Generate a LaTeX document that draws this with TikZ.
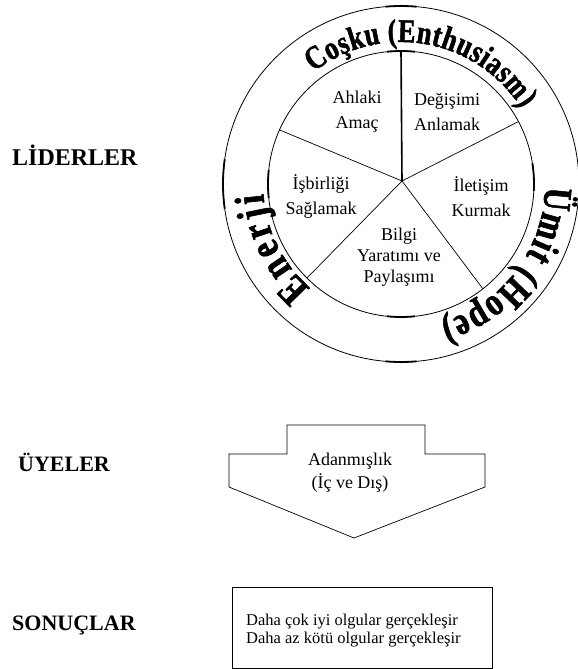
\documentclass[tikz,border=0pt]{standalone}
\usepackage{fontspec}
\setmainfont{Liberation Serif}
\newfontfamily\artfont{Liberation Serif}[FakeStretch=0.8, FakeBold=1.5]
\usetikzlibrary{calc,decorations.text}

\begin{document}
\begin{tikzpicture}[
    x=1pt, y=1pt,
    level/.style={anchor=west, inner sep=0pt, font=\fontsize{22}{26}\selectfont\bfseries},
    slice/.style={align=center, inner sep=0pt, font=\fontsize{18}{25}\selectfont},
    ring/.style={draw, line width=0.8pt},
    handle/.style={line width=1.8pt},
    spoke/.style={line width=0.7pt},
    curved/.style n args={2}{decorate, decoration={text along path, text align=fit to path,
                   text={|\artfont\bfseries\fontsize{#1}{#1}\selectfont|#2}}}
]
\useasboundingbox (0,0) rectangle (578,-669);

% Level labels
\node[level, font=\fontsize{24}{28}\selectfont\bfseries] (lider) at (12,-155) {LİDERLER};
\node[level] (uye) at (18,-462) {ÜYELER};
\node[level] (sonuc) at (12,-625) {SONUÇLAR};

% Rings
\coordinate (ctr) at (401,-184);
\coordinate (hub) at (402,-181);
\draw[ring] (ctr) circle[radius=178pt];
\draw[ring] (ctr) circle[radius=133pt];

% Handles on the rings
\draw[handle] ($(ctr)+(84:133pt)$) arc[start angle=84, end angle=96, radius=133pt];
\draw[handle] ($(ctr)+(264:133pt)$) arc[start angle=264, end angle=276, radius=133pt];
\draw[handle] ($(ctr)+(-3:133pt)$) arc[start angle=-3, end angle=9, radius=133pt];
\draw[handle] ($(ctr)+(174:133pt)$) arc[start angle=174, end angle=186, radius=133pt];
\draw[handle] ($(ctr)+(85:178pt)$) arc[start angle=85, end angle=95, radius=178pt];
\draw[handle] ($(ctr)+(265:178pt)$) arc[start angle=265, end angle=275, radius=178pt];
\draw[handle] ($(ctr)+(172:178pt)$) arc[start angle=172, end angle=188, radius=178pt];

% Spokes
\draw[spoke, line width=1.6pt] (hub) -- ($(ctr)+(90:133pt)$);
\draw[spoke] (hub) -- ($(ctr)+(28:133pt)$);
\draw[spoke] (hub) -- ($(ctr)+(156:133pt)$);
\draw[spoke] (hub) -- ($(ctr)+(225:133pt)$);
\draw[spoke] (hub) -- ($(ctr)+(308:133pt)$);

% Slices
\node[slice] (ahlak) at (357,-112) {Ahlaki\\Amaç};
\node[slice] (degisim) at (447,-112) {Değişimi\\Anlamak};
\node[slice] (isbirligi) at (321,-197) {İşbirliği\\Sağlamak};
\node[slice] (iletisim) at (481,-197) {İletişim\\Kurmak};
\node[slice, font=\fontsize{18}{21}\selectfont] (bilgi) at (399,-257) {Bilgi\\Yaratımı ve\\Paylaşımı};

% Text round the ring
\path[curved={33}{Coşku (Enthusiasm)}] ($(ctr)+(128:142pt)$) arc[start angle=128, end angle=32, radius=142pt];
\path[curved={40}{Ümit (Hope)}] ($(ctr)+(-1:144pt)$) arc[start angle=-1, end angle=-74, radius=144pt];
\path[curved={42}{Enerji}] ($(ctr)+(229:138pt)$) arc[start angle=229, end angle=184, radius=138pt];

% Commitment arrow
\draw[line width=0.7pt] (287,-425) -- (425,-425) -- (425,-454) -- (485,-454) -- (485,-487)
    -- (354,-538) -- (229,-487) -- (229,-454) -- (287,-454) -- cycle;
\node[slice, font=\fontsize{18}{23}\selectfont] (adanma) at (350,-473) {Adanmışlık\\(İç ve Dış)};

% Outcomes
\node[draw, line width=0.7pt, minimum width=260pt, minimum height=81pt] (sonuckutu) at (362,-627.5) {};
\node[anchor=west, inner sep=0pt, align=left, font=\fontsize{16.5}{18}\selectfont] (sonucyazi) at (246,-631)
     {Daha çok iyi olgular gerçekleşir\\Daha az kötü olgular gerçekleşir};

\end{tikzpicture}
\end{document}
